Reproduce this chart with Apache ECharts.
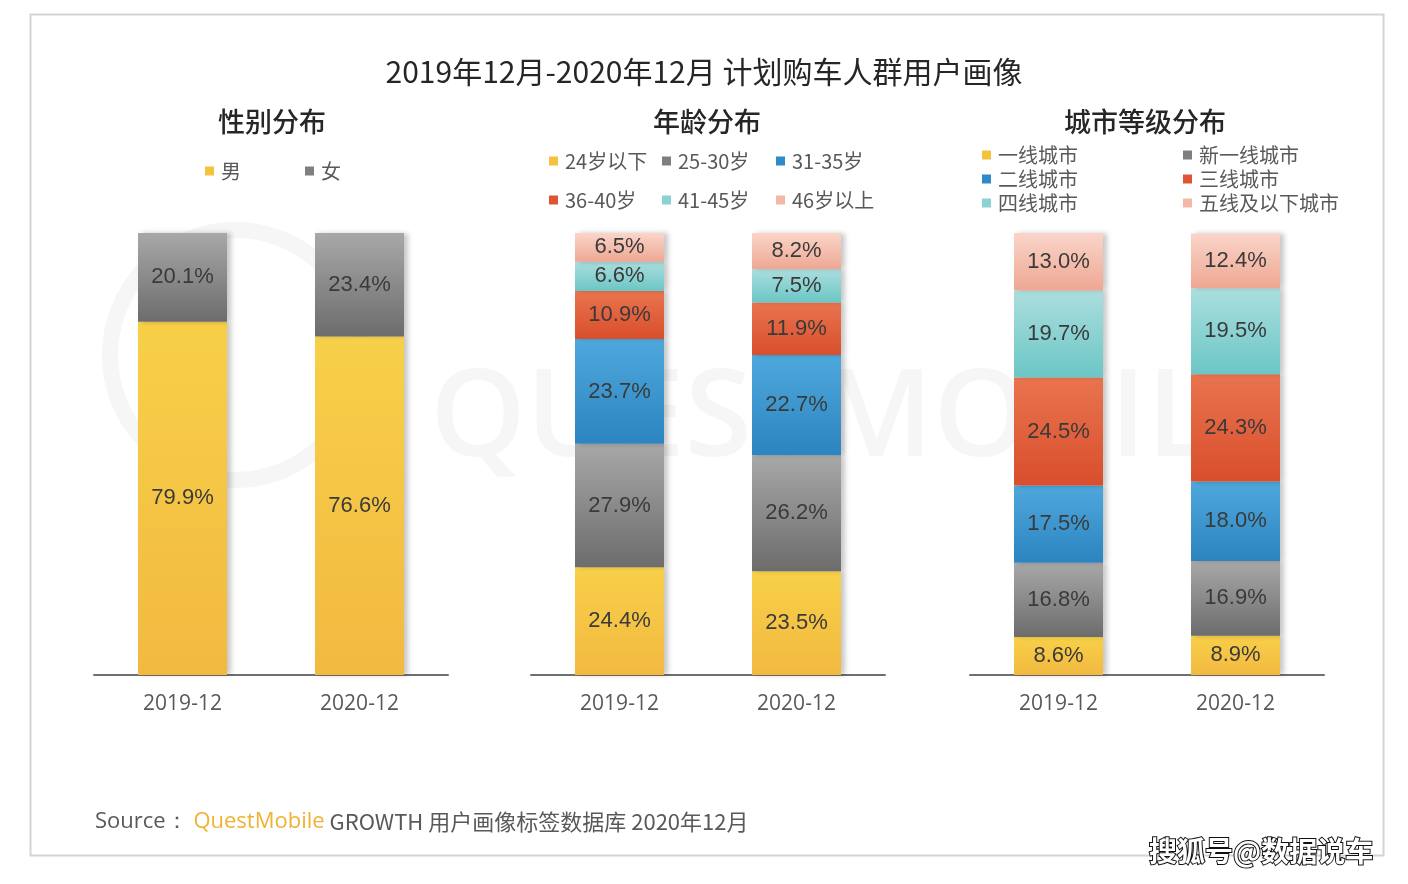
<!DOCTYPE html>
<html><head><meta charset="utf-8">
<script src="https://cdn.jsdelivr.net/npm/echarts@6/dist/echarts.min.js"></script>
<style>html,body{margin:0;padding:0;background:#fff}#c{width:1408px;height:884px}</style>
</head><body><div id="c"></div>
<script>
// ---- data ----
const categories = ['2019-12', '2020-12'];
const genderNames = ['男', '女'];
const genderValues = [[79.9, 76.6], [20.1, 23.4]];
const ageNames = ['24岁以下', '25-30岁', '31-35岁', '36-40岁', '41-45岁', '46岁以上'];
const ageValues = [[24.4, 23.5], [27.9, 26.2], [23.7, 22.7], [10.9, 11.9], [6.6, 7.5], [6.5, 8.2]];
const cityNames = ['一线城市', '新一线城市', '二线城市', '三线城市', '四线城市', '五线及以下城市'];
const cityValues = [[8.6, 8.9], [16.8, 16.9], [17.5, 18.0], [24.5, 24.3], [19.7, 19.5], [13.0, 12.4]];
const titleText = '2019年12月-2020年12月 计划购车人群用户画像';
const panelTitles = ['性别分布', '年龄分布', '城市等级分布'];

// ---- style ----
const grad = (a, b) => new echarts.graphic.LinearGradient(0, 0, 0, 1, [{offset: 0, color: a}, {offset: 1, color: b}]);
const palette = {
  yellow: ['#F8D048', '#F2B941'], gray: ['#A8A8A8', '#6C6C6C'], blue: ['#4FA8DC', '#2C84C0'],
  red: ['#E9744F', '#D94E2C'], teal: ['#ABDEDE', '#6CC6C6'], pink: ['#FAD5C9', '#EEA792']
};
const legendIcon = {yellow: '#F5C23E', gray: '#7F7F7F', blue: '#2E8BC9', red: '#DE5434', teal: '#8DD1D1', pink: '#F3B8A6'};
const genderColors = ['yellow', 'gray'];
const sixColors = ['yellow', 'gray', 'blue', 'red', 'teal', 'pink'];

const gridLefts = [94, 531, 970];
const grids = gridLefts.map(l => ({left: l, width: 354, top: 233, height: 442}));
const xAxes = grids.map((g, i) => ({
  type: 'category', gridIndex: i, data: categories,
  axisLine: {lineStyle: {color: '#6f6f6f', width: 2}}, axisTick: {show: false},
  axisLabel: {fontSize: 21, color: '#595959', margin: 19, fontFamily: 'Open Sans'}
}));
const yAxes = grids.map((g, i) => ({type: 'value', gridIndex: i, min: 0, max: i === 2 ? 100.1 : 100, show: false}));

const series = [];
function addGroup(names, values, colors, gi) {
  names.forEach((n, k) => {
    const c = palette[colors[k]];
    series.push({
      type: 'bar', name: n, xAxisIndex: gi, yAxisIndex: gi, stack: 's' + gi,
      barWidth: 89, data: values[k],
      itemStyle: {color: grad(c[0], c[1]), shadowColor: 'rgba(0,0,0,0.22)', shadowBlur: 5, shadowOffsetX: 4},
      label: {show: true, position: 'inside', fontSize: 22, color: '#3a3a3a',
        fontFamily: 'Liberation Sans', formatter: p => p.value.toFixed(1) + '%'}
    });
  });
}
addGroup(genderNames, genderValues, genderColors, 0);
addGroup(ageNames, ageValues, sixColors, 1);
addGroup(cityNames, cityValues, sixColors, 2);

// legends: one per item, positioned
const legends = [];
function addLegend(name, color, x, y) {
  legends.push({
    data: [{name: name, icon: 'rect', itemStyle: {color: legendIcon[color]}}],
    left: x, top: y - 10, padding: 0, itemWidth: 9, itemHeight: 9, itemGap: 0,
    selectedMode: false,
    textStyle: {fontSize: 20, color: '#595959', lineHeight: 20, padding: [0, 0, 0, 2],
      fontFamily: 'Noto Sans CJK SC'}
  });
}
const gPos = [[205, 171], [305, 171]];
genderNames.forEach((n, k) => addLegend(n, genderColors[k], gPos[k][0], gPos[k][1]));
const aPos = [[549, 161], [662, 161], [776, 161], [549, 200], [662, 200], [776, 200]];
ageNames.forEach((n, k) => addLegend(n, sixColors[k], aPos[k][0], aPos[k][1]));
const cPos = [[982, 155], [1183, 155], [982, 179], [1183, 179], [982, 203], [1183, 203]];
cityNames.forEach((n, k) => addLegend(n, sixColors[k], cPos[k][0], cPos[k][1]));

const titles = [{text: titleText, left: 'center', top: 52,
  textStyle: {fontSize: 30, fontWeight: 'normal', color: '#262626', fontFamily: 'Noto Sans CJK SC'}}];
const centers = [267, 702, 1140];
panelTitles.forEach((t, i) => titles.push({
  text: t, left: centers[i], top: 103, textAlign: 'center',
  textStyle: {fontSize: 27, fontWeight: 500, color: '#262626', fontFamily: 'Noto Sans CJK SC'}
}));

const chart = echarts.init(document.getElementById('c'), null, {renderer: 'canvas'});
chart.setOption({
  backgroundColor: '#fff', animation: false,
  title: titles, legend: legends, grid: grids, xAxis: xAxes, yAxis: yAxes, series: series,
  graphic: [
    {type: 'rect', z: -20, silent: true, shape: {x: 30.5, y: 14.5, width: 1353, height: 841},
      style: {fill: 'none', stroke: '#d4d4d4', lineWidth: 2}},
    {type: 'circle', z: -20, silent: true, shape: {cx: 235, cy: 355, r: 125},
      style: {fill: 'none', stroke: '#f6f6f6', lineWidth: 16}},
    {type: 'text', z: -20, silent: true, left: 430, top: 360,
      style: {text: 'QUESTMOBILE', fill: '#f6f6f6', font: '600 122px "Open Sans"'}},
    {type: 'text', left: 95, top: 811, silent: true,
      style: {rich: {
        a: {fontSize: 22, fill: '#595959', fontFamily: 'Open Sans'},
        b: {fontSize: 22, fill: '#F0B233', fontFamily: 'Open Sans'},
        c: {fontSize: 22, fill: '#595959', fontFamily: 'Noto Sans CJK SC'}
      }, text: '{a|Source： }{b|QuestMobile}{c| GROWTH 用户画像标签数据库 2020年12月}'}},
    {type: 'text', left: 1148, top: 836, silent: true,
      style: {text: '搜狐号@数据说车', fill: '#fff', stroke: '#111', lineWidth: 2,
        font: 'bold 28px "Noto Sans CJK SC"'}}
  ]
});
</script></body></html>
